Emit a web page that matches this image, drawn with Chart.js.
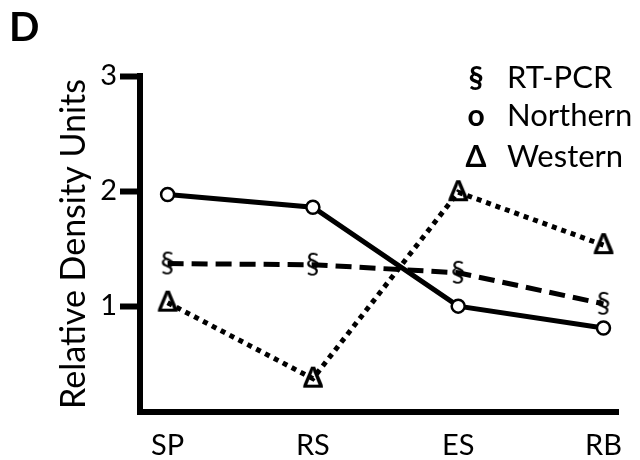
<!DOCTYPE html>
<html>
<head>
<meta charset="utf-8">
<script src="https://cdn.jsdelivr.net/npm/chart.js@4/dist/chart.umd.min.js"></script>
<style>
html, body { margin: 0; padding: 0; background: #fff; }
#wrap { width: 640px; height: 460px; }
</style>
</head>
<body>
<div id="wrap"><canvas id="blot_chart" width="640" height="460"></canvas></div>
<script>
var categories = ["SP", "RS", "ES", "RB"];
var rtpcr = [1.37, 1.36, 1.29, 1.02];
var northern = [1.97, 1.86, 1.00, 0.81];
var western = [1.03, 0.37, 1.99, 1.53];
var yTicks = [1, 2, 3];
var legendItems = [["§", "RT-PCR"], ["o", "Northern"], ["Δ", "Western"]];

var FONT = "Lato";

// little canvas with a text glyph, used as a point marker
function glyph(ch, size, bold) {
    var c = document.createElement("canvas");
    c.width = Math.round(size * 1.1);
    c.height = Math.round(size * 1.3);
    var g = c.getContext("2d");
    g.font = (bold ? "bold " : "") + size + "px " + FONT;
    g.textAlign = "center";
    g.textBaseline = "middle";
    g.fillStyle = "#000";
    g.fillText(ch, c.width / 2, c.height / 2);
    return c;
}

function pts(values) {
    return values.map(function (v, i) { return { x: i, y: v }; });
}

var sectionMark = glyph("§", 29, false);
var deltaMark = glyph("Δ", 29, true);

var overlay = {
    id: "overlay",
    afterDraw: function (chart) {
        var ctx = chart.ctx;
        var rows = [78, 116, 157];
        ctx.save();
        ctx.fillStyle = "#000";
        ctx.textBaseline = "middle";
        ctx.font = "bold 40px " + FONT;
        ctx.textAlign = "left";
        ctx.fillText("D", 9, 28);

        for (var i = 0; i < legendItems.length; i++) {
            ctx.font = "bold 30px " + FONT;
            ctx.textAlign = "center";
            ctx.fillText(legendItems[i][0], 476, rows[i]);
            ctx.font = "31px " + FONT;
            ctx.textAlign = "left";
            ctx.fillText(legendItems[i][1], 507, rows[i]);
        }
        ctx.restore();
    }
};

var ctx = document.getElementById("blot_chart").getContext("2d");

var chart = new Chart(ctx, {
    type: "line",
    data: {
        datasets: [{
            label: "Northern",
            data: pts(northern),
            borderColor: "#000",
            borderWidth: 5,
            pointStyle: "circle",
            pointRadius: 6.5,
            pointBorderWidth: 2.5,
            pointBackgroundColor: "#fff",
            pointBorderColor: "#000"
        }, {
            label: "RT-PCR",
            data: pts(rtpcr),
            borderColor: "#000",
            borderWidth: 5,
            borderDash: [16, 8],
            pointStyle: sectionMark
        }, {
            label: "Western",
            data: pts(western),
            borderColor: "#000",
            borderWidth: 5,
            borderDash: [5, 5],
            pointStyle: deltaMark
        }]
    },
    plugins: [overlay],
    options: {
        responsive: false,
        animation: false,
        devicePixelRatio: 1,
        layout: { padding: { left: 50, top: 76, right: 22, bottom: 0 } },
        plugins: {
            legend: { display: false },
            tooltip: { enabled: false }
        },
        scales: {
            x: {
                type: "linear",
                min: -0.19,
                max: 3.1,
                afterBuildTicks: function (scale) {
                    scale.ticks = categories.map(function (c, i) { return { value: i }; });
                },
                afterFit: function (scale) { scale.height = 48; },
                ticks: {
                    callback: function (v) { return categories[v]; },
                    font: { family: FONT, size: 29 },
                    color: "#000",
                    padding: 16,
                    maxRotation: 0
                },
                grid: { drawOnChartArea: false, drawTicks: false },
                border: { color: "#000", width: 6 }
            },
            y: {
                min: 0.08,
                max: 3,
                afterBuildTicks: function (scale) {
                    scale.ticks = yTicks.map(function (v) { return { value: v }; });
                },
                afterFit: function (scale) { scale.width = 90; },
                ticks: {
                    font: { family: FONT, size: 29 },
                    color: "#000",
                    padding: 3
                },
                grid: {
                    drawOnChartArea: false,
                    drawTicks: true,
                    tickLength: 20,
                    tickWidth: 6,
                    tickColor: "#000"
                },
                border: { color: "#000", width: 6 },
                title: {
                    display: true,
                    text: "Relative Density Units",
                    font: { family: FONT, size: 34 },
                    color: "#000",
                    padding: 4
                }
            }
        }
    }
});
</script>
</body>
</html>
